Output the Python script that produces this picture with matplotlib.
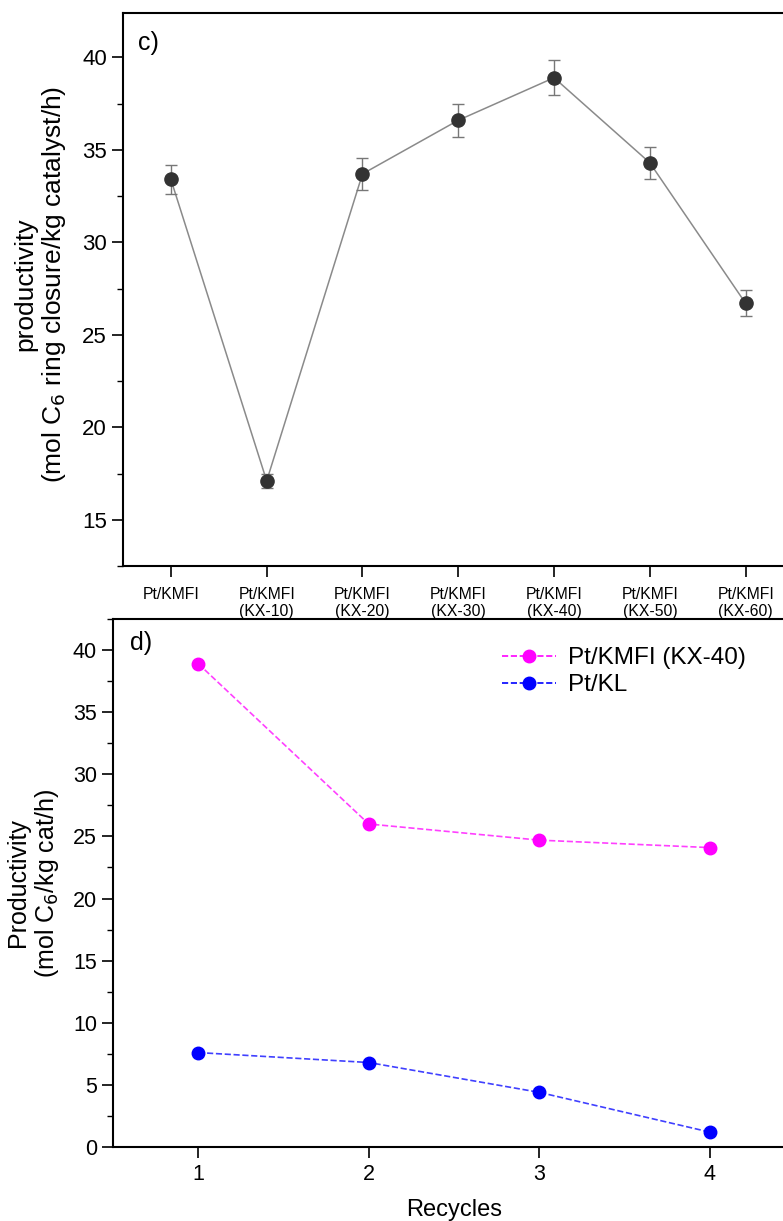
import numpy as np
import matplotlib
matplotlib.use("Agg")
import matplotlib.pyplot as plt
from matplotlib.ticker import MultipleLocator
from matplotlib.lines import Line2D

plt.rcParams['font.family'] = ['Liberation Sans', 'DejaVu Sans']

# ---- data: panel c) ----
catalysts = ["Pt/KMFI", "Pt/KMFI\n(KX-10)", "Pt/KMFI\n(KX-20)", "Pt/KMFI\n(KX-30)",
             "Pt/KMFI\n(KX-40)", "Pt/KMFI\n(KX-50)", "Pt/KMFI\n(KX-60)"]
productivity_c = [33.4, 17.1, 33.7, 36.6, 38.9, 34.3, 26.7]
error_c = [0.8, 0.4, 0.85, 0.9, 0.95, 0.85, 0.7]

# ---- data: panel d) ----
recycles = [1, 2, 3, 4]
kmfi_kx40 = [38.9, 26.0, 24.7, 24.1]
pt_kl = [7.6, 6.8, 4.4, 1.2]

W, H = 783, 1221
fig = plt.figure(figsize=(W / 100, H / 100), dpi=100)


def box(x0, y0, x1, y1):
    # pixel box (top-left origin) -> figure fraction
    return [x0 / W, 1 - y1 / H, (x1 - x0) / W, (y1 - y0) / H]


# ---------- panel c ----------
ax1 = fig.add_axes(box(123, 13, 783, 566))
x_c = np.arange(len(productivity_c))
ax1.errorbar(x_c, productivity_c, yerr=error_c, fmt='none', ecolor='#777777',
             elinewidth=1.0, capsize=4, capthick=1.0, zorder=2)
ax1.plot(x_c, productivity_c, color='#8a8a8a', lw=1.1, zorder=1)
ax1.plot(x_c, productivity_c, 'o', color='#333333', ms=9.5, zorder=3)
ax1.set_xlim(-0.5, 6.39)
ax1.set_ylim(12.5, 42.4)
ax1.set_yticks([15, 20, 25, 30, 35, 40])
ax1.yaxis.set_minor_locator(MultipleLocator(2.5))
ax1.set_xticks(x_c)
ax1.set_xticklabels(catalysts, fontsize=11.3, linespacing=1.15)
ax1.spines['right'].set_visible(False)
for s in ['left', 'top', 'bottom']:
    ax1.spines[s].set_linewidth(1.5)
ax1.tick_params(axis='y', which='major', direction='out', length=8, width=1.2,
                labelsize=16)
ax1.tick_params(axis='y', which='minor', direction='out', length=4, width=1.0)
ax1.tick_params(axis='x', direction='out', length=8, width=1.2, pad=7)
ax1.set_ylabel("productivity\n(mol C$_6$ ring closure/kg catalyst/h)",
               fontsize=19, linespacing=1.15)
ax1.yaxis.set_label_coords(-0.083, 0.51)
ax1.text(0.022, 0.968, "c)", transform=ax1.transAxes, fontsize=18,
         va='top', ha='left')

# ---------- panel d ----------
ax2 = fig.add_axes(box(113, 619, 795, 1147))
ax2.plot(recycles, kmfi_kx40, '--', color='#ff00ff', lw=1.2, alpha=0.75,
         zorder=1)
ax2.plot(recycles, kmfi_kx40, 'o', color='#ff00ff', ms=9, zorder=2)
ax2.plot(recycles, pt_kl, '--', color='#0000ff', lw=1.2, alpha=0.75, zorder=1)
ax2.plot(recycles, pt_kl, 'o', color='#0000ff', ms=9, zorder=2)
ax2.set_xlim(0.5, 4.5)
ax2.set_ylim(0, 42.5)
ax2.set_xticks(recycles)
ax2.yaxis.set_major_locator(MultipleLocator(5))
ax2.yaxis.set_minor_locator(MultipleLocator(2.5))
ax2.spines['right'].set_visible(False)
for s in ['left', 'top', 'bottom']:
    ax2.spines[s].set_linewidth(1.5)
ax2.tick_params(axis='both', which='major', direction='out', length=8,
                width=1.2, labelsize=15.5)
ax2.tick_params(axis='y', which='minor', direction='out', length=4, width=1.0)
ax2.tick_params(axis='x', pad=4)
ax2.set_xlabel("Recycles", fontsize=17, labelpad=10)
ax2.set_ylabel("Productivity\n(mol C$_6$/kg cat/h)", fontsize=18,
               linespacing=1.15)
ax2.yaxis.set_label_coords(-0.076, 0.5)
ax2.text(0.025, 0.978, "d)", transform=ax2.transAxes, fontsize=18,
         va='top', ha='left')

handles = [
    Line2D([], [], ls='--', color='#ff00ff', lw=1.2, marker='o', ms=9,
           markerfacecolor='#ff00ff', markeredgecolor='#ff00ff'),
    Line2D([], [], ls='--', color='#0000ff', lw=1.2, marker='o', ms=9,
           markerfacecolor='#0000ff', markeredgecolor='#0000ff'),
]
fig.legend(handles, ["Pt/KMFI (KX-40)", "Pt/KL"],
           loc='upper left', bbox_to_anchor=(490 / W, 1 - 635 / H),
           frameon=False, fontsize=17.5, handlelength=2.2, handletextpad=0.5,
           labelspacing=0.2, borderpad=0)

fig.savefig("out.png", dpi=100)
